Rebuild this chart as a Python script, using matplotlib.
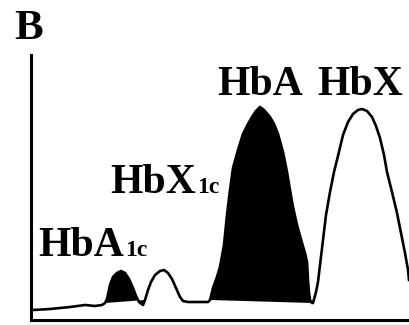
import matplotlib
matplotlib.use("Agg")
import matplotlib.pyplot as plt
from matplotlib.transforms import offset_copy
import numpy as np

# Chromatogram trace: retention position and detector signal (arbitrary units)
retention = [2, 19, 39, 54, 64, 71,
             74, 76, 79, 82, 86, 90, 94, 98, 102, 105, 108, 112,
             114, 117, 120, 124, 129, 133, 137, 141, 145, 149, 152, 157, 169, 177,
             179, 182, 186, 189, 193, 196, 199, 202, 207, 212, 217, 221, 225, 229, 233,
             239, 243, 247, 252, 256, 259, 262, 266, 271, 274, 276, 277, 278, 279, 281,
             282, 285, 287, 289, 292, 295, 299, 303, 306, 312, 317, 322, 327, 331, 336,
             341, 345, 349, 353, 356, 361, 366, 370, 374, 377, 378]
signal = [10, 11, 13, 15, 14, 15,
          17, 21, 35, 43, 47, 49, 47, 41, 32, 24, 18, 15,
          20, 30, 38, 45, 49, 50, 47, 41, 32, 23, 19, 18, 18, 18,
          20, 32, 43, 53, 75, 105, 130, 152, 170, 186, 196, 203, 209, 213, 210,
          203, 196, 186, 168, 148, 130, 113, 95, 77, 67, 58, 40, 27, 20, 17,
          17, 28, 38, 55, 80, 105, 128, 148, 160, 185, 198, 206, 210, 211, 209,
          203, 194, 182, 165, 148, 128, 107, 87, 67, 50, 40]

# Shaded peaks (index ranges into the trace)
shaded = [(6, 18), (32, 62)]

peak_labels = ["HbA", "HbX"]
glyco_labels = ["HbA", "HbX"]
glyco_suffix = "1c"
panel_letter = "B"

W, H, DPI = 409, 325, 100
fig = plt.figure(figsize=(W / DPI, H / DPI), dpi=DPI)
ax = fig.add_axes([31 / W, 5 / H, (W - 31) / W, 265 / H])
ax.set_xlim(0, 378)
ax.set_ylim(0, 265)

x = np.array(retention, dtype=float)
y = np.array(signal, dtype=float)
for i0, i1 in shaded:
    ax.fill(x[i0:i1 + 1], y[i0:i1 + 1], color="black", lw=0)
ax.plot(x, y, color="black", lw=1.9, solid_joinstyle="round", clip_on=False)

for side in ("top", "right"):
    ax.spines[side].set_visible(False)
for side in ("left", "bottom"):
    ax.spines[side].set_linewidth(2.2)
ax.set_xticks([])
ax.set_yticks([])

serif = ["Liberation Serif", "DejaVu Serif"]
big = dict(family=serif, weight="bold", fontsize=30, va="baseline", ha="left")
small = dict(family=serif, weight="bold", fontsize=17, va="baseline", ha="left")

ax.text(186, 225, peak_labels[0], **big)
ax.text(286, 225, peak_labels[1], **big)
glyco = [ax.text(79, 127, glyco_labels[1], **big),
         ax.text(7, 64, glyco_labels[0], **big)]

# Subscript-style suffix sits on the same baseline, right after each label
fig.canvas.draw()
renderer = fig.canvas.get_renderer()
for t in glyco:
    bb = t.get_window_extent(renderer)
    bx, by = ax.transData.transform(t.get_position())
    tx, ty = ax.transData.inverted().transform((bb.x1 + 1, by))
    ax.text(tx, ty, glyco_suffix, **small)

fig.text(14 / W, 1 - 39 / H, panel_letter, family=serif, weight="bold",
         fontsize=31, va="baseline", ha="left")

fig.savefig("out.png", dpi=DPI)
